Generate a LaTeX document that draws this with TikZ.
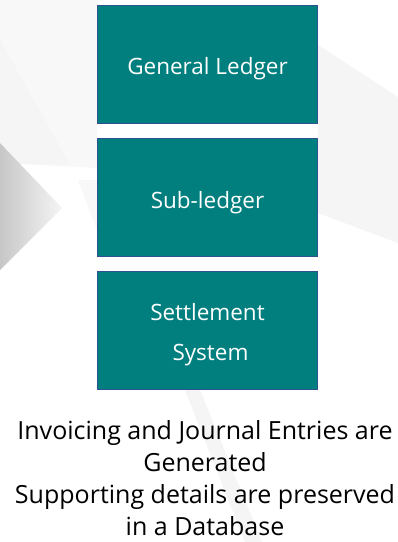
\documentclass[tikz,border=0pt]{standalone}
\usepackage{fontspec}
\setmainfont{Open Sans}
\definecolor{teal1}{HTML}{007F7E}
\definecolor{edge1}{HTML}{2F5290}
\definecolor{bg1}{HTML}{F5F5F5}
\definecolor{bg2}{HTML}{F8F8F8}
\begin{document}
\begin{tikzpicture}[x=1pt,y=-1pt,
  box/.style={draw=edge1,line width=1.2pt,fill=teal1,text=white,minimum width=220pt,minimum height=118pt,font=\fontsize{22.5}{40}\selectfont,align=center,inner sep=0pt},
  note/.style={font=\fontsize{25}{32}\selectfont,align=center,text=black,inner sep=0pt}]
\useasboundingbox (0,0) rectangle (398,542);
\fill[white] (0,0) rectangle (398,542);
% faint background shapes
\fill[bg2] (0,0) -- (97,0) -- (97,168) -- (0,163) -- cycle;
\fill[bg1] (0,40) -- (70,165) -- (0,163) -- cycle;
\fill[bg2] (78,180) -- (97,180) -- (97,230) -- cycle;
\fill[bg1] (318,45) -- (398,97) -- (398,243) -- (318,213) -- cycle;
\fill[bg1] (185,390) -- (200,390) -- (262,542) -- (245,542) -- cycle;
\shade[left color=black!22,right color=black!4] (0,143) -- (62,208) -- (0,270) -- cycle;
% boxes
\node[box] (gl) at (207.5,64.5) {\smash{\raisebox{-9.5pt}{General Ledger}}};
\node[box] (sl) at (207.5,197.5) {\smash{\raisebox{-10.5pt}{Sub-ledger}}};
\node[box] (ss) at (207.5,330.5) {\smash{\raisebox{-29.5pt}{\begin{tabular}[b]{@{}c@{}}Settlement\\\hspace*{6pt}System\end{tabular}}}};
\node[note,anchor=north] (txt) at (205,420) {Invoicing and Journal Entries are\\Generated\\Supporting details are preserved\\in a Database};
\end{tikzpicture}
\end{document}
